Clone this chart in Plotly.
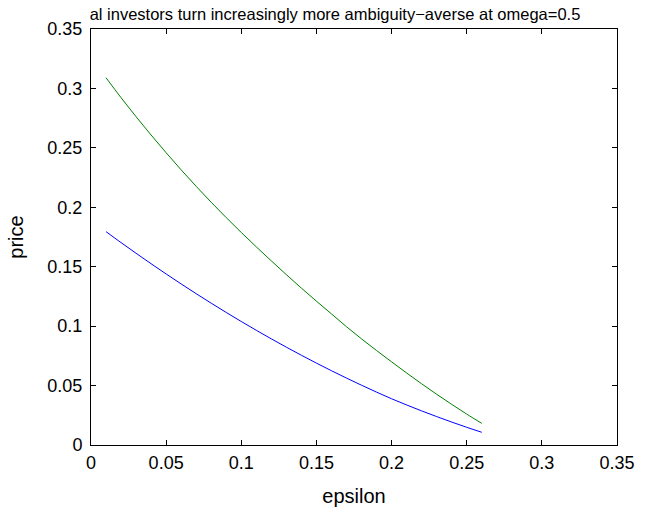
import plotly.graph_objects as go

epsilon = [0.01, 0.02, 0.03, 0.04, 0.05, 0.06, 0.07, 0.08, 0.09, 0.10,
           0.11, 0.12, 0.13, 0.14, 0.15, 0.16, 0.17, 0.18, 0.19, 0.20,
           0.21, 0.22, 0.23, 0.24, 0.25, 0.26]
price_green = [0.3090, 0.2922, 0.2762, 0.2608, 0.2459, 0.2315, 0.2176, 0.2042, 0.1913, 0.1788,
               0.1667, 0.1549, 0.1433, 0.1320, 0.1210, 0.1103, 0.0995, 0.0893, 0.0795, 0.0700,
               0.0606, 0.0515, 0.0427, 0.0342, 0.0260, 0.0182]
price_blue = [0.1795, 0.1703, 0.1613, 0.1525, 0.1439, 0.1355, 0.1273, 0.1193, 0.1115, 0.1039,
              0.0965, 0.0893, 0.0823, 0.0755, 0.0689, 0.0625, 0.0563, 0.0503, 0.0445, 0.0389,
              0.0337, 0.0287, 0.0239, 0.0193, 0.0149, 0.0107]

title_text = "al investors turn increasingly more ambiguity\u2212averse at omega=0.5"
font_family = "Liberation Sans, Arial, Helvetica, sans-serif"

W, H = 651, 507

fig = go.Figure()
fig.add_trace(go.Scatter(x=epsilon, y=price_blue, mode="lines",
                         line=dict(color="rgb(0,0,255)", width=1, shape="spline"),
                         hoverinfo="skip", showlegend=False))
fig.add_trace(go.Scatter(x=epsilon, y=price_green, mode="lines",
                         line=dict(color="rgb(0,128,0)", width=1, shape="spline"),
                         hoverinfo="skip", showlegend=False))

axis_common = dict(
    showline=True, linecolor="black", linewidth=1, mirror="ticks",
    ticks="inside", ticklen=5, tickcolor="black", tickwidth=1,
    showgrid=False, zeroline=False, range=[0, 0.35], dtick=0.05, tick0=0,
    tickfont=dict(family=font_family, size=18, color="black"),
    automargin=False, fixedrange=True,
)

fig.update_layout(
    width=W, height=H,
    margin=dict(l=91, r=34, t=29, b=62),
    paper_bgcolor="white", plot_bgcolor="white",
    font=dict(family=font_family, color="black"),
    xaxis=dict(**axis_common, ticklabelstandoff=1,
               title=dict(text="epsilon", font=dict(size=20), standoff=19)),
    yaxis=dict(**axis_common, ticklabelstandoff=4,
               title=dict(text="price", font=dict(size=20), standoff=18)),
    title=dict(text=title_text, x=335 / W, xanchor="center",
               y=1 - 14 / H, yanchor="middle",
               font=dict(size=16.5, family=font_family, color="black")),
)

fig.write_html("out.html", config={"displayModeBar": False},
               post_script="document.body.style.margin='0px';document.body.style.overflow='hidden';")
